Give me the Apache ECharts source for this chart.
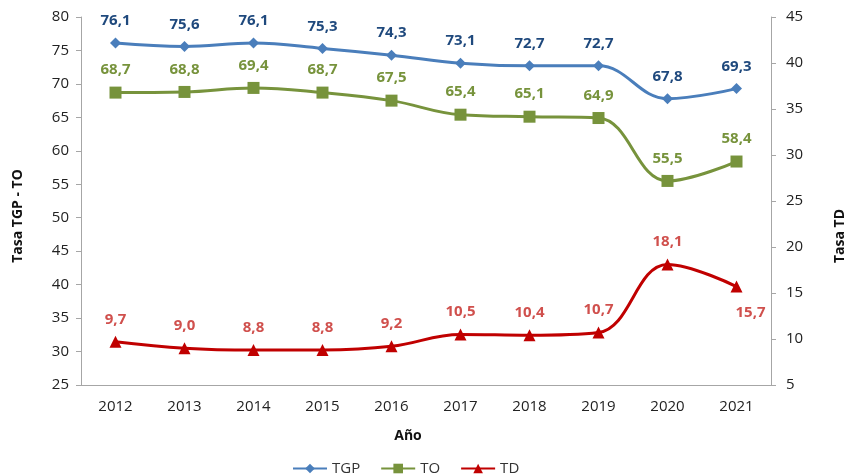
<!DOCTYPE html>
<html>
<head>
<meta charset="utf-8">
<script src="https://cdn.jsdelivr.net/npm/echarts@6/dist/echarts.min.js"></script>
<style>
  html, body { margin: 0; padding: 0; background: #fff; }
  #chart { width: 847px; height: 476px; }
</style>
</head>
<body>
<div id="chart"></div>
<script>
// datos
var years = ['2012', '2013', '2014', '2015', '2016', '2017', '2018', '2019', '2020', '2021'];
var tgp = [76.1, 75.6, 76.1, 75.3, 74.3, 73.1, 72.7, 72.7, 67.8, 69.3];
var to = [68.7, 68.8, 69.4, 68.7, 67.5, 65.4, 65.1, 64.9, 55.5, 58.4];
var td = [9.7, 9.0, 8.8, 8.8, 9.2, 10.5, 10.4, 10.7, 18.1, 15.7];

var fontFam = '"Open Sans", "Noto Sans", sans-serif';
var axisGray = '#a6a6a6';

function fmt(p) {
  return p.value.toFixed(1).replace('.', ',');
}

var chart = echarts.init(document.getElementById('chart'));
chart.setOption({
  animation: false,
  textStyle: { fontFamily: fontFam },
  grid: { left: 81, right: 76, top: 17, bottom: 91, outerBoundsMode: 'none' },
  legend: {
    top: 456,
    left: 287,
    itemWidth: 34,
    itemHeight: 12,
    itemGap: 20,
    textStyle: { fontSize: 15, color: '#333', fontFamily: fontFam },
    data: ['TGP', 'TO', 'TD']
  },
  xAxis: {
    type: 'category',
    data: years,
    name: 'Año',
    nameLocation: 'middle',
    nameGap: 44,
    nameTextStyle: { fontWeight: 'bold', fontSize: 14, color: '#111', padding: [0, 36, 0, 0] },
    axisLine: { lineStyle: { color: axisGray } },
    axisTick: { length: 5, lineStyle: { color: axisGray } },
    axisLabel: { fontSize: 15, color: '#222', margin: 14 }
  },
  yAxis: [
    {
      type: 'value',
      min: 25, max: 80, interval: 5,
      name: 'Tasa TGP - TO',
      nameLocation: 'middle',
      nameGap: 56,
      nameTextStyle: { fontWeight: 'bold', fontSize: 14, color: '#111', padding: [0, 30, 0, 0] },
      splitLine: { show: false },
      axisLine: { show: true, lineStyle: { color: axisGray } },
      axisTick: { show: true, length: 5, lineStyle: { color: axisGray } },
      axisLabel: { fontSize: 15, color: '#222', margin: 12 }
    },
    {
      type: 'value',
      min: 5, max: 45, interval: 5,
      name: 'Tasa TD',
      nameLocation: 'middle',
      nameGap: 62,
      nameTextStyle: { fontWeight: 'bold', fontSize: 14, color: '#111', padding: [0, 70, 0, 0] },
      splitLine: { show: false },
      axisLine: { show: true, lineStyle: { color: axisGray } },
      axisTick: { show: true, length: 5, lineStyle: { color: axisGray } },
      axisLabel: { fontSize: 15, color: '#222', margin: 15 }
    }
  ],
  series: [
    {
      name: 'TGP',
      type: 'line',
      data: tgp,
      smooth: 0.4,
      symbol: 'diamond',
      symbolSize: 11,
      itemStyle: { color: '#4a7ebb' },
      lineStyle: { width: 3, color: '#4a7ebb' },
      label: {
        show: true, position: 'top', distance: 9, formatter: fmt,
        fontSize: 15, fontWeight: 'bold', color: '#1f497d'
      }
    },
    {
      name: 'TO',
      type: 'line',
      data: to,
      smooth: 0.4,
      symbol: 'rect',
      symbolSize: 12,
      itemStyle: { color: '#77933c' },
      lineStyle: { width: 3, color: '#77933c' },
      label: {
        show: true, position: 'top', distance: 9, formatter: fmt,
        fontSize: 15, fontWeight: 'bold', color: '#77933c'
      }
    },
    {
      name: 'TD',
      type: 'line',
      yAxisIndex: 1,
      data: td.map(function (v, i) {
        if (i === td.length - 1) {
          return { value: v, label: { position: 'bottom', offset: [14, 0], distance: 13 } };
        }
        return v;
      }),
      smooth: 0.4,
      symbol: 'triangle',
      symbolSize: 12,
      itemStyle: { color: '#c00000' },
      lineStyle: { width: 3, color: '#c00000' },
      label: {
        show: true, position: 'top', distance: 9, formatter: fmt,
        fontSize: 15, fontWeight: 'bold', color: '#d0504d'
      }
    }
  ]
});
</script>
</body>
</html>
